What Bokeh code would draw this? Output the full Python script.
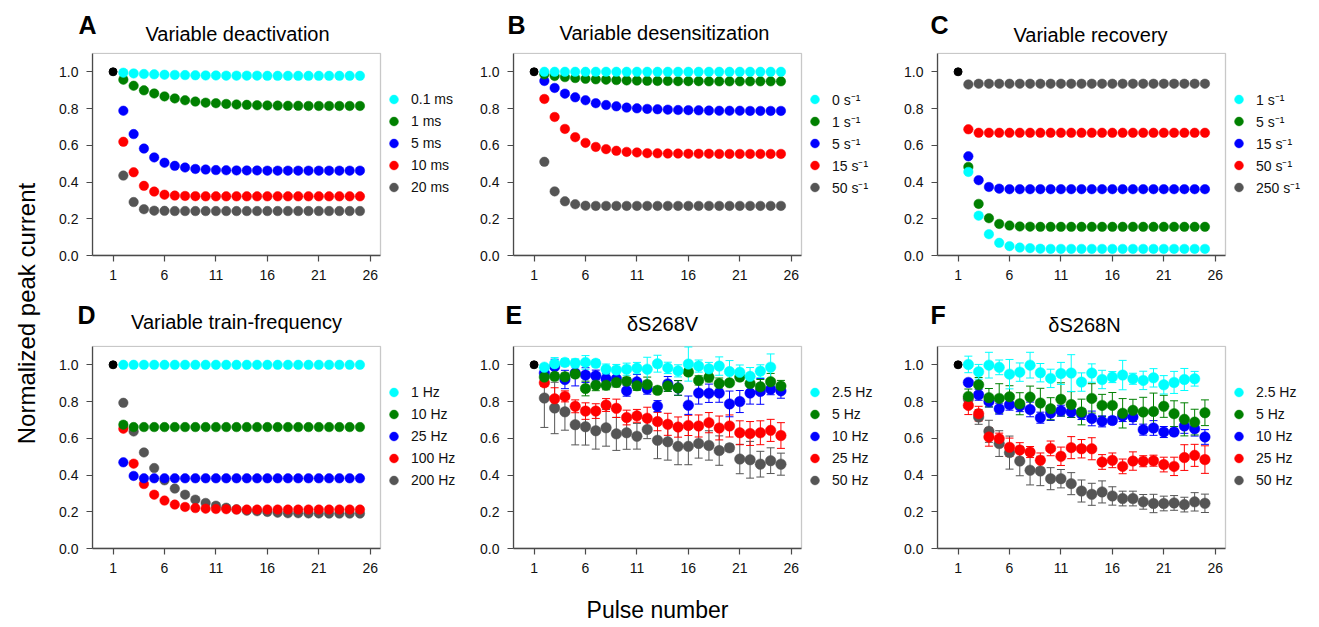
from bokeh.plotting import figure
from bokeh.models import (Range1d, FixedTicker, Legend, LegendItem, BoxAnnotation,
                          Whisker, ColumnDataSource, TeeHead)
from bokeh.layouts import row, column
from bokeh.embed import file_html
from bokeh.resources import INLINE
from bokeh.core.properties import value

# ---------------- data ----------------
first_pulse = [1]
first_value = [1.0]
pulses = [2, 3, 4, 5, 6, 7, 8, 9, 10, 11, 12, 13, 14, 15, 16, 17, 18, 19, 20, 21, 22, 23, 24, 25]
pulses_to24 = [2, 3, 4, 5, 6, 7, 8, 9, 10, 11, 12, 13, 14, 15, 16, 17, 18, 19, 20, 21, 22, 23, 24]
x_ticks = [1, 6, 11, 16, 21, 26]
y_ticks = [0.0, 0.2, 0.4, 0.6, 0.8, 1.0]
y_tick_labels = ["0.0", "0.2", "0.4", "0.6", "0.8", "1.0"]

panel_letters = ["A", "B", "C", "D", "E", "F"]
panel_titles = ["Variable deactivation", "Variable desensitization", "Variable recovery",
                "Variable train-frequency", "\u03b4S268V", "\u03b4S268N"]

# A  Variable deactivation
A_labels = ["0.1 ms", "1 ms", "5 ms", "10 ms", "20 ms"]
A_01ms = [0.995, 0.991, 0.988, 0.986, 0.984, 0.983, 0.982, 0.981, 0.980, 0.980, 0.979, 0.979,
          0.979, 0.979, 0.978, 0.978, 0.978, 0.978, 0.978, 0.978, 0.978, 0.978, 0.978, 0.978]
A_1ms = [0.957, 0.924, 0.899, 0.882, 0.866, 0.855, 0.845, 0.838, 0.832, 0.829, 0.825, 0.822,
         0.820, 0.818, 0.817, 0.816, 0.815, 0.815, 0.814, 0.814, 0.814, 0.814, 0.814, 0.814]
A_5ms = [0.788, 0.661, 0.582, 0.534, 0.505, 0.488, 0.479, 0.471, 0.468, 0.465, 0.464, 0.463,
         0.463, 0.463, 0.462, 0.462, 0.462, 0.462, 0.462, 0.462, 0.462, 0.462, 0.462, 0.462]
A_10ms = [0.619, 0.453, 0.379, 0.348, 0.331, 0.326, 0.324, 0.323, 0.322, 0.322, 0.322, 0.322,
          0.322, 0.322, 0.322, 0.322, 0.322, 0.322, 0.322, 0.322, 0.322, 0.322, 0.322, 0.322]
A_20ms = [0.435, 0.291, 0.252, 0.244, 0.243, 0.242, 0.242, 0.242, 0.242, 0.242, 0.242, 0.242,
          0.242, 0.242, 0.242, 0.242, 0.242, 0.242, 0.242, 0.242, 0.242, 0.242, 0.242, 0.242]

# B  Variable desensitization
B_labels = ["0 s\u207b\u00b9", "1 s\u207b\u00b9", "5 s\u207b\u00b9", "15 s\u207b\u00b9", "50 s\u207b\u00b9"]
B_0 = [1.0, 1.0, 1.0, 1.0, 1.0, 1.0, 1.0, 1.0, 1.0, 1.0, 1.0, 1.0,
       1.0, 1.0, 1.0, 1.0, 1.0, 1.0, 1.0, 1.0, 1.0, 1.0, 1.0, 1.0]
B_1 = [0.986, 0.977, 0.971, 0.966, 0.962, 0.959, 0.957, 0.955, 0.953, 0.952, 0.951, 0.950,
       0.950, 0.949, 0.949, 0.949, 0.948, 0.948, 0.948, 0.948, 0.948, 0.948, 0.948, 0.948]
B_5 = [0.950, 0.912, 0.881, 0.861, 0.845, 0.829, 0.819, 0.812, 0.805, 0.801, 0.798, 0.796,
       0.794, 0.792, 0.791, 0.790, 0.789, 0.788, 0.788, 0.788, 0.787, 0.787, 0.787, 0.787]
B_15 = [0.852, 0.754, 0.689, 0.644, 0.613, 0.591, 0.579, 0.570, 0.564, 0.561, 0.557, 0.556,
        0.555, 0.555, 0.554, 0.554, 0.554, 0.553, 0.553, 0.553, 0.553, 0.553, 0.553, 0.553]
B_50 = [0.510, 0.349, 0.295, 0.279, 0.271, 0.270, 0.270, 0.270, 0.270, 0.270, 0.270, 0.270,
        0.270, 0.270, 0.270, 0.270, 0.270, 0.270, 0.270, 0.270, 0.270, 0.270, 0.270, 0.270]

# C  Variable recovery
C_labels = ["1 s\u207b\u00b9", "5 s\u207b\u00b9", "15 s\u207b\u00b9", "50 s\u207b\u00b9", "250 s\u207b\u00b9"]
C_1 = [0.455, 0.217, 0.116, 0.069, 0.051, 0.043, 0.040, 0.037, 0.036, 0.036, 0.036, 0.036,
       0.036, 0.036, 0.036, 0.036, 0.036, 0.036, 0.036, 0.036, 0.036, 0.036, 0.036, 0.036]
C_5 = [0.482, 0.281, 0.203, 0.172, 0.163, 0.158, 0.157, 0.156, 0.156, 0.156, 0.156, 0.156,
       0.156, 0.156, 0.156, 0.156, 0.156, 0.156, 0.156, 0.156, 0.156, 0.156, 0.156, 0.156]
C_15 = [0.540, 0.410, 0.373, 0.364, 0.361, 0.361, 0.361, 0.361, 0.361, 0.361, 0.361, 0.361,
        0.361, 0.361, 0.361, 0.361, 0.361, 0.361, 0.361, 0.361, 0.361, 0.361, 0.361, 0.361]
C_50 = [0.687, 0.668, 0.668, 0.668, 0.668, 0.668, 0.668, 0.668, 0.668, 0.668, 0.668, 0.668,
        0.668, 0.668, 0.668, 0.668, 0.668, 0.668, 0.668, 0.668, 0.668, 0.668, 0.668, 0.668]
C_250 = [0.931, 0.935, 0.935, 0.935, 0.935, 0.935, 0.935, 0.935, 0.935, 0.935, 0.935, 0.935,
         0.935, 0.935, 0.935, 0.935, 0.935, 0.935, 0.935, 0.935, 0.935, 0.935, 0.935, 0.935]

# D  Variable train-frequency
D_labels = ["1 Hz", "10 Hz", "25 Hz", "100 Hz", "200 Hz"]
D_1 = [1.0, 1.0, 1.0, 1.0, 1.0, 1.0, 1.0, 1.0, 1.0, 1.0, 1.0, 1.0,
       1.0, 1.0, 1.0, 1.0, 1.0, 1.0, 1.0, 1.0, 1.0, 1.0, 1.0, 1.0]
D_10 = [0.674, 0.661, 0.661, 0.661, 0.661, 0.661, 0.661, 0.661, 0.661, 0.661, 0.661, 0.661,
        0.661, 0.661, 0.661, 0.661, 0.661, 0.661, 0.661, 0.661, 0.661, 0.661, 0.661, 0.661]
D_25 = [0.469, 0.395, 0.382, 0.382, 0.382, 0.382, 0.382, 0.382, 0.382, 0.382, 0.382, 0.382,
        0.382, 0.382, 0.382, 0.382, 0.382, 0.382, 0.382, 0.382, 0.382, 0.382, 0.382, 0.382]
D_100 = [0.652, 0.462, 0.351, 0.293, 0.261, 0.239, 0.226, 0.220, 0.217, 0.215, 0.214, 0.212,
         0.212, 0.212, 0.212, 0.212, 0.212, 0.212, 0.212, 0.212, 0.212, 0.212, 0.212, 0.212]
D_200 = [0.793, 0.637, 0.523, 0.438, 0.371, 0.326, 0.293, 0.266, 0.248, 0.233, 0.222, 0.213,
         0.206, 0.203, 0.199, 0.195, 0.192, 0.192, 0.191, 0.191, 0.190, 0.190, 0.190, 0.190]

# E  deltaS268V (mean, error)
E_labels = ["2.5 Hz", "5 Hz", "10 Hz", "25 Hz", "50 Hz"]
E_25 = [0.987, 1.006, 1.013, 1.008, 1.013, 1.008, 0.976, 0.972, 0.976, 0.982, 0.976, 1.006,
        0.983, 0.967, 1.004, 0.993, 0.978, 0.993, 0.963, 0.959, 0.937, 0.965, 0.987]
E_25_err = [0.013, 0.033, 0.020, 0.024, 0.037, 0.020, 0.028, 0.030, 0.033, 0.031, 0.065, 0.046,
            0.031, 0.033, 0.093, 0.033, 0.035, 0.050, 0.060, 0.040, 0.048, 0.035, 0.072]
E_5 = [0.933, 0.937, 0.935, 0.950, 0.871, 0.889, 0.889, 0.904, 0.911, 0.886, 0.893, 0.861,
       0.885, 0.874, 0.961, 0.915, 0.932, 0.898, 0.902, 0.933, 0.898, 0.880, 0.908, 0.885]
E_5_err = [0.025, 0.020, 0.020, 0.020, 0.040, 0.030, 0.025, 0.025, 0.020, 0.025, 0.040, 0.020,
           0.030, 0.040, 0.020, 0.025, 0.025, 0.030, 0.010, 0.020, 0.040, 0.040, 0.045, 0.030]
E_10 = [0.955, 0.990, 0.920, 0.955, 0.944, 0.941, 0.924, 0.924, 0.859, 0.907, 0.870, 0.775,
        0.896, 0.874, 0.780, 0.846, 0.845, 0.846, 0.787, 0.800, 0.846, 0.855, 0.867, 0.858]
E_10_err = [0.02, 0.04, 0.05, 0.07, 0.04, 0.03, 0.03, 0.04, 0.03, 0.04, 0.03, 0.03,
            0.04, 0.04, 0.05, 0.06, 0.05, 0.05, 0.07, 0.06, 0.06, 0.07, 0.03, 0.04]
E_25Hz = [0.902, 0.815, 0.828, 0.774, 0.748, 0.748, 0.781, 0.763, 0.713, 0.722, 0.709, 0.691,
          0.676, 0.661, 0.670, 0.667, 0.685, 0.656, 0.667, 0.630, 0.626, 0.630, 0.643, 0.615]
E_25Hz_err = [0.02, 0.06, 0.03, 0.035, 0.045, 0.04, 0.035, 0.05, 0.04, 0.035, 0.06, 0.05,
              0.06, 0.055, 0.055, 0.06, 0.055, 0.065, 0.06, 0.065, 0.065, 0.065, 0.06, 0.07]
E_50 = [0.819, 0.765, 0.744, 0.674, 0.663, 0.641, 0.657, 0.624, 0.630, 0.611, 0.648, 0.589,
        0.581, 0.556, 0.556, 0.572, 0.561, 0.533, 0.548, 0.487, 0.483, 0.459, 0.478, 0.459]
E_50_err = [0.16, 0.14, 0.10, 0.11, 0.10, 0.10, 0.10, 0.09, 0.09, 0.07, 0.05, 0.10,
            0.10, 0.10, 0.10, 0.08, 0.08, 0.08, 0.02, 0.08, 0.10, 0.07, 0.07, 0.06]

# F  deltaS268N (mean, error)
F_labels = ["2.5 Hz", "5 Hz", "10 Hz", "25 Hz", "50 Hz"]
F_25 = [1.002, 0.962, 0.998, 0.986, 0.949, 0.960, 0.998, 0.957, 0.926, 0.953, 0.955, 0.906,
        0.955, 0.920, 0.933, 0.944, 0.924, 0.915, 0.929, 0.891, 0.904, 0.920, 0.924]
F_25_err = [0.045, 0.04, 0.07, 0.04, 0.08, 0.05, 0.07, 0.05, 0.05, 0.06, 0.10, 0.05,
            0.05, 0.05, 0.03, 0.08, 0.03, 0.05, 0.05, 0.05, 0.06, 0.06, 0.04]
F_5 = [0.828, 0.891, 0.821, 0.817, 0.826, 0.788, 0.824, 0.792, 0.761, 0.812, 0.784, 0.743,
       0.817, 0.779, 0.779, 0.736, 0.752, 0.743, 0.746, 0.774, 0.734, 0.703, 0.688, 0.739]
F_5_err = [0.04, 0.04, 0.05, 0.08, 0.06, 0.06, 0.06, 0.08, 0.06, 0.09, 0.07, 0.07,
           0.08, 0.06, 0.07, 0.08, 0.06, 0.08, 0.10, 0.06, 0.07, 0.09, 0.07, 0.07]
F_10 = [0.904, 0.837, 0.800, 0.761, 0.783, 0.775, 0.757, 0.712, 0.737, 0.750, 0.743, 0.732,
        0.708, 0.692, 0.697, 0.721, 0.716, 0.647, 0.656, 0.634, 0.634, 0.667, 0.652, 0.607]
F_10_err = [0.015, 0.03, 0.03, 0.03, 0.03, 0.03, 0.04, 0.03, 0.04, 0.03, 0.03, 0.03,
            0.04, 0.03, 0.02, 0.03, 0.04, 0.03, 0.04, 0.03, 0.02, 0.04, 0.04, 0.04]
F_25Hz = [0.779, 0.734, 0.607, 0.598, 0.551, 0.536, 0.525, 0.480, 0.545, 0.502, 0.549, 0.543,
          0.543, 0.471, 0.480, 0.447, 0.476, 0.475, 0.478, 0.457, 0.447, 0.495, 0.507, 0.484]
F_25Hz_err = [0.05, 0.04, 0.05, 0.03, 0.05, 0.04, 0.03, 0.04, 0.04, 0.05, 0.06, 0.05,
              0.06, 0.04, 0.04, 0.04, 0.05, 0.03, 0.03, 0.04, 0.05, 0.07, 0.06, 0.075]
F_50 = [0.815, 0.716, 0.638, 0.571, 0.522, 0.476, 0.426, 0.422, 0.380, 0.380, 0.353, 0.313,
        0.295, 0.308, 0.286, 0.272, 0.272, 0.254, 0.245, 0.245, 0.248, 0.239, 0.254, 0.246]
F_50_err = [0.02, 0.04, 0.06, 0.07, 0.09, 0.08, 0.08, 0.08, 0.06, 0.05, 0.06, 0.06,
            0.06, 0.06, 0.05, 0.04, 0.04, 0.04, 0.05, 0.04, 0.04, 0.04, 0.05, 0.05]

# ---------------- style / layout ----------------
COLORS = ["#00FFFF", "#008000", "#0000FF", "#FF0000", "#555555"]
FONT = "Liberation Sans"
AXIS_COLOR = "#4a4a4a"
TEXT_COLOR = "#111111"
LEFT_W = 54
COL_W = [421, 424, 412]
BORDER_L = 38
FRAME_W = 288          # width of the boxed data area
FRAME_H = 203
PANEL_H = 245
HEAD_H = [47, 48]
X0, X1 = -1, 27        # boxed data range
Y0, Y1 = 0, 1.1
Y_TOP = 1.105          # range end a hair above the box so its top line shows
PX_PER_X = FRAME_W / (X1 - X0)


def make_panel(width, labels, xs, means, errs, msize):
    inner_w = width - BORDER_L
    p = figure(width=width, height=PANEL_H,
               x_range=Range1d(X0, X0 + inner_w / PX_PER_X), y_range=Range1d(Y0, Y_TOP),
               output_backend="svg", toolbar_location=None,
               min_border_left=BORDER_L, min_border_right=0, min_border_top=5,
               min_border_bottom=PANEL_H - 5 - FRAME_H,
               background_fill_color="white", border_fill_color="white")
    p.grid.visible = False
    p.outline_line_color = None
    for ax in (p.xaxis[0], p.yaxis[0]):
        ax.axis_line_color = AXIS_COLOR
        ax.axis_line_width = 1.3
        ax.major_tick_line_color = AXIS_COLOR
        ax.major_tick_line_width = 1.2
        ax.major_tick_in = 0
        ax.major_tick_out = 6
        ax.minor_tick_line_color = None
        ax.major_label_text_font = FONT
        ax.major_label_text_font_size = "14px"
        ax.major_label_text_color = TEXT_COLOR
        ax.major_label_standoff = 8
    p.xaxis.bounds = (X0, X1)
    p.yaxis.bounds = (Y0, Y1)
    p.xaxis.ticker = FixedTicker(ticks=x_ticks)
    p.yaxis.ticker = FixedTicker(ticks=y_ticks)
    p.yaxis.major_label_overrides = {t: s for t, s in zip(y_ticks, y_tick_labels)}
    p.add_layout(BoxAnnotation(left=X0, right=X1, bottom=Y0, top=Y1, fill_color=None,
                               fill_alpha=0, line_color=AXIS_COLOR, line_width=1.3,
                               level="underlay"))

    rends = [None] * 5
    for i in [4, 3, 2, 1, 0]:
        if errs is not None:
            src = ColumnDataSource(dict(
                x=xs[i],
                upper=[m + e for m, e in zip(means[i], errs[i])],
                lower=[m - e for m, e in zip(means[i], errs[i])]))
            w = Whisker(base="x", upper="upper", lower="lower", source=src,
                        line_color=COLORS[i], line_width=1,
                        upper_head=TeeHead(size=8, line_color=COLORS[i], line_width=1),
                        lower_head=TeeHead(size=8, line_color=COLORS[i], line_width=1))
            p.add_layout(w)
        rends[i] = p.scatter(xs[i], means[i], size=msize, fill_color=COLORS[i],
                             line_color=COLORS[i], line_width=0.5)
    p.scatter(first_pulse, first_value, size=8, fill_color="black", line_color="black")

    legend = Legend(items=[LegendItem(label=labels[i], renderers=[rends[i]]) for i in range(5)],
                    location=(FRAME_W + 1, 57), orientation="vertical",
                    border_line_color=None, background_fill_alpha=0,
                    padding=0, margin=0, spacing=0,
                    glyph_width=25, glyph_height=22, label_height=22,
                    label_standoff=5, label_text_font=FONT, label_text_font_size="14px",
                    label_text_color=TEXT_COLOR)
    p.add_layout(legend)
    return p


def text_fig(width, height):
    f = figure(width=width, height=height, x_range=Range1d(0, width), y_range=Range1d(0, height),
               output_backend="svg", toolbar_location=None, x_axis_location=None,
               y_axis_location=None, min_border=0, outline_line_color=None,
               background_fill_color="white", border_fill_color="white")
    f.grid.visible = False
    return f


xs5 = [pulses, pulses, pulses, pulses, pulses]
xs5s = [pulses_to24, pulses, pulses, pulses, pulses]

pA = make_panel(COL_W[0], A_labels, xs5, [A_01ms, A_1ms, A_5ms, A_10ms, A_20ms], None, 9.5)
pB = make_panel(COL_W[1], B_labels, xs5, [B_0, B_1, B_5, B_15, B_50], None, 9.5)
pC = make_panel(COL_W[2], C_labels, xs5, [C_1, C_5, C_15, C_50, C_250], None, 9.5)
pD = make_panel(COL_W[0], D_labels, xs5, [D_1, D_10, D_25, D_100, D_200], None, 9.5)
pE = make_panel(COL_W[1], E_labels, xs5s, [E_25, E_5, E_10, E_25Hz, E_50],
                [E_25_err, E_5_err, E_10_err, E_25Hz_err, E_50_err], 10.5)
pF = make_panel(COL_W[2], F_labels, xs5s, [F_25, F_5, F_10, F_25Hz, F_50],
                [F_25_err, F_5_err, F_10_err, F_25Hz_err, F_50_err], 10.5)

# header strips holding the panel letters and titles (positions in px)
total_w = sum(COL_W)
frame_left = [BORDER_L, COL_W[0] + BORDER_L, COL_W[0] + COL_W[1] + BORDER_L]
letter_dx = [[-14, -6, -7], [-15, -8, -7]]
letter_up = [23, 26]
title_dx = [[1, 7, 9], [0, 5, 3]]
title_up = [[14, 15, 13], [19, 17, 16]]
headers = []
for r in range(2):
    h = text_fig(total_w, HEAD_H[r])
    lx = [frame_left[c] + letter_dx[r][c] for c in range(3)]
    tx = [frame_left[c] + FRAME_W / 2 + title_dx[r][c] for c in range(3)]
    h.text(x=lx, y=[letter_up[r]] * 3, text=panel_letters[3 * r:3 * r + 3],
           text_align="left", text_baseline="alphabetic", text_font=value(FONT),
           text_font_size="25px", text_font_style="bold", text_color="black")
    h.text(x=tx, y=title_up[r], text=panel_titles[3 * r:3 * r + 3],
           text_align="center", text_baseline="alphabetic", text_font=value(FONT),
           text_font_size="20px", text_color="black")
    headers.append(h)

total_h = HEAD_H[0] + HEAD_H[1] + 2 * PANEL_H + 42
left = text_fig(LEFT_W, total_h)
left.text(x=[26], y=[total_h - 313], text=["Normalized peak current"], angle=1.5707963,
          text_align="center", text_baseline="alphabetic", text_font=value(FONT),
          text_font_size="24px", text_color="black")

bottom = text_fig(total_w, 42)
bottom.text(x=[657 - LEFT_W], y=[18], text=["Pulse number"], text_align="center",
            text_baseline="alphabetic", text_font=value(FONT), text_font_size="23px",
            text_color="black")

layout = row(left, column(headers[0], row(pA, pB, pC), headers[1], row(pD, pE, pF), bottom))

open("out.html", "w").write(file_html(layout, INLINE))
